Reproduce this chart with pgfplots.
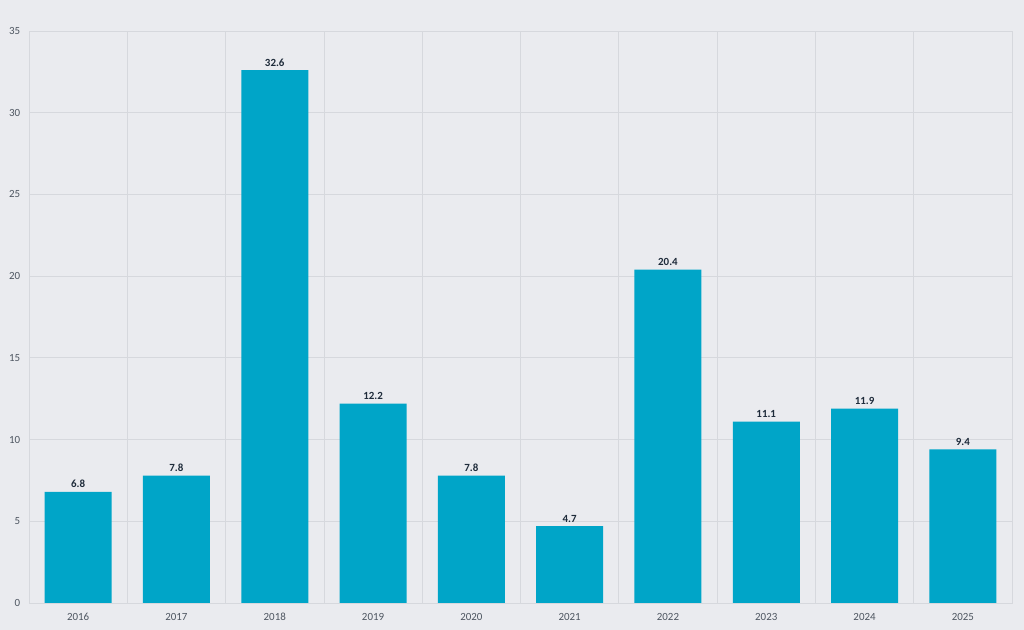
\documentclass[border=0pt]{standalone}
\usepackage{pgfplots}
\pgfplotsset{compat=1.18}
\usepackage{fontspec}
\setmainfont{Carlito}
\definecolor{bg}{HTML}{EAEBEF}
\definecolor{bar}{HTML}{00A5C8}
\definecolor{gridc}{HTML}{D6D8DD}
\definecolor{tickc}{HTML}{4D5560}
\definecolor{labc}{HTML}{1E2B3A}
\begin{document}
\begin{tikzpicture}[x=1pt,y=1pt]
\fill[bg] (-21.75,-20.25) rectangle (746.25,452.25);
\begin{axis}[
  at={(0,0)}, anchor=south west,
  scale only axis,
  width=737.25pt, height=429pt,
  ybar, bar width=50.25pt,
  xmin=-0.5, xmax=9.5, ymin=0, ymax=35,
  xtick={0,...,9},
  xticklabels={2016,2017,2018,2019,2020,2021,2022,2023,2024,2025},
  minor xtick={-0.5,0.5,...,9.5},
  ytick={0,5,...,35},
  xmajorgrids=false, xminorgrids=true, ymajorgrids=true,
  grid style={draw=gridc, line width=0.6pt},
  minor grid style={draw=gridc, line width=0.6pt},
  axis line style={draw=gridc, line width=0.6pt},
  major tick length=0pt, minor tick length=0pt,
  tick label style={font=\fontsize{8.2}{10}\selectfont, text=tickc},
  /pgf/number format/assume math mode=true,
  yticklabel style={xshift=-3pt},
  xticklabel style={yshift=-4pt},
  nodes near coords,
  nodes near coords style={font=\fontsize{8.2}{10}\selectfont\bfseries, text=labc,
    /pgf/number format/fixed, /pgf/number format/fixed zerofill,
    /pgf/number format/precision=1, yshift=-0.5pt},
]
\addplot[fill=bar, draw=none] coordinates {
(0,6.8) (1,7.8) (2,32.6) (3,12.2) (4,7.8) (5,4.7) (6,20.4) (7,11.1) (8,11.9) (9,9.4)
};
\end{axis}
\end{tikzpicture}
\end{document}
